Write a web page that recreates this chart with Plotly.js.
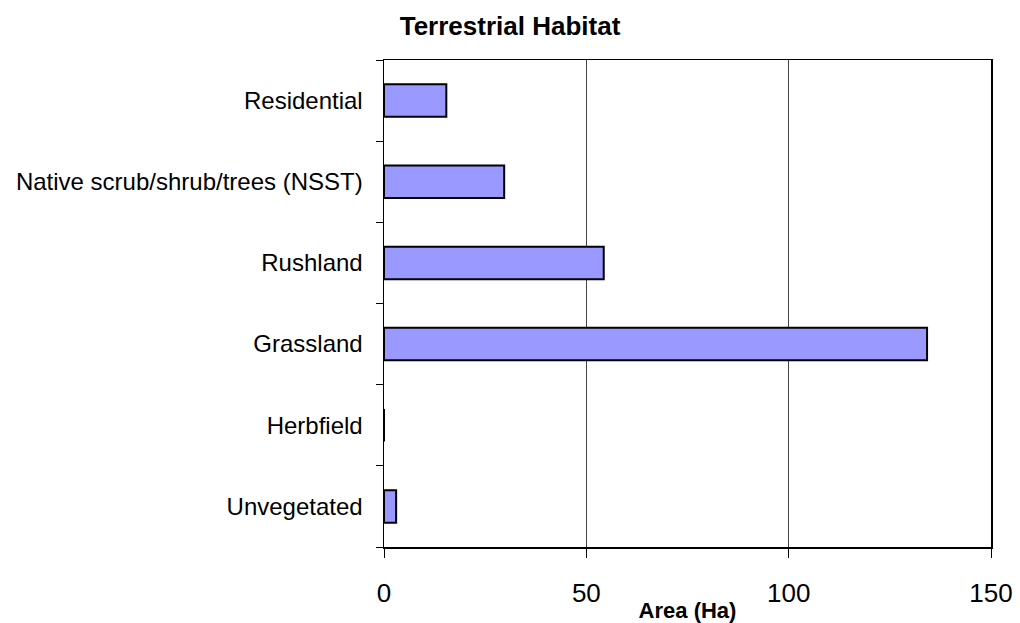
<!DOCTYPE html>
<html>
<head>
<meta charset="utf-8">
<script src="https://cdn.plot.ly/plotly-3.0.1.min.js"></script>
<style>html,body{margin:0;padding:0;background:#fff;}#chart{width:1020px;height:623px;}</style>
</head>
<body>
<div id="chart"></div>
<script>
// Categories listed bottom to top
const categories = ["Unvegetated", "Herbfield", "Grassland", "Rushland", "Native scrub/shrub/trees (NSST)", "Residential"];
const areaHa = [3.0, 0, 134.2, 54.3, 29.7, 15.4];
const xTicks = [0, 50, 100, 150];

const trace = {
  type: "bar",
  orientation: "h",
  y: categories,
  x: areaHa,
  width: 0.4,
  marker: {color: "#9999FF", line: {color: "#000000", width: 2}},
  hoverinfo: "x+y"
};

const layout = {
  width: 1020,
  height: 623,
  margin: {l: 384, r: 29, t: 60, b: 76},
  paper_bgcolor: "#ffffff",
  plot_bgcolor: "#ffffff",
  showlegend: false,
  font: {family: "Liberation Sans, Arial, sans-serif", color: "#000000"},
  title: {
    text: "<b>Terrestrial Habitat</b>",
    font: {size: 26, family: "Liberation Sans, Arial, sans-serif", color: "#000"},
    xref: "container", x: 0.5, xanchor: "center",
    yref: "container", y: 1 - 26/623, yanchor: "middle"
  },
  xaxis: {
    range: [0, 150],
    tickvals: xTicks,
    ticktext: xTicks.map(String),
    ticks: "outside",
    ticklen: 9,
    tickwidth: 1,
    tickcolor: "#000",
    tickfont: {size: 26},
    ticklabelstandoff: 13,
    showgrid: true,
    gridcolor: "#444444",
    gridwidth: 1,
    zeroline: false,
    showline: true,
    linecolor: "#000",
    linewidth: 1.5,
    mirror: true,
    title: {text: "<b>Area (Ha)</b>", font: {size: 22}, standoff: 0}
  },
  yaxis: {
    type: "category",
    categoryorder: "array",
    categoryarray: categories,
    tickson: "boundaries",
    ticks: "outside",
    ticklen: 7,
    tickwidth: 1,
    tickcolor: "#000",
    tickfont: {size: 24},
    ticklabelstandoff: 15,
    showgrid: false,
    zeroline: false,
    showline: true,
    linecolor: "#000",
    linewidth: 1.5,
    mirror: true
  },
  bargap: 0.6
};

Plotly.newPlot("chart", [trace], layout, {displayModeBar: false, staticPlot: true});
</script>
</body>
</html>
